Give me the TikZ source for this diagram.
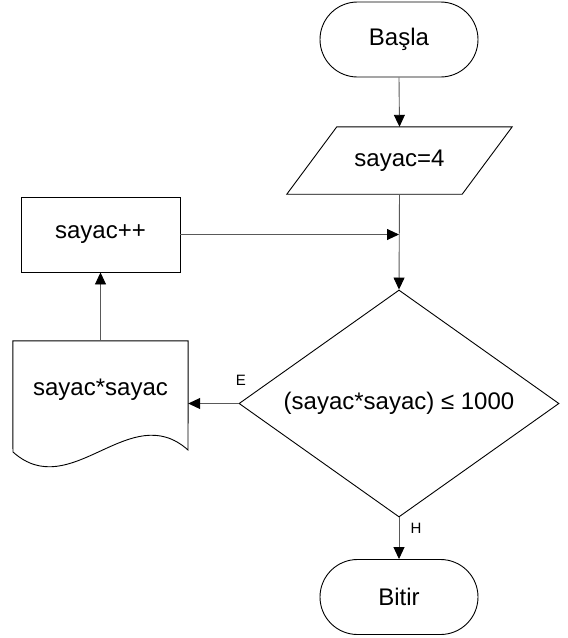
\documentclass[tikz,border=0pt]{standalone}
\usepackage{fontspec}
\setmainfont{Liberation Sans}
\usetikzlibrary{shapes.geometric,shapes.misc,arrows.meta,calc}
\begin{document}
\begin{tikzpicture}[x=1pt,y=-1pt,
  shp/.style={draw=black,line width=0.9pt,font=\fontsize{24}{28}\selectfont,inner sep=0pt},
  term/.style={shp,rounded rectangle,minimum width=158pt,minimum height=75pt},
  procbox/.style={shp,rectangle,minimum width=159pt,minimum height=75pt},
  ghost/.style={rectangle,inner sep=0pt,font=\fontsize{24}{28}\selectfont},
  dec/.style={shp,diamond,aspect=1.41,minimum width=320pt,minimum height=227pt},
  lbl/.style={inner sep=0pt,font=\fontsize{15}{18}\selectfont},
  conn/.style={draw=black!65,line width=0.9pt},
  arr/.style={conn,-{Triangle[length=12pt,width=11pt,color=black]}}]
\useasboundingbox (0,0) rectangle (568,638);
\node[term] (start) at (399,39.5) {Başla};
\node[ghost,minimum width=225pt,minimum height=67pt] (par) at (399.5,160.5) {sayac=4};
\draw[line width=0.9pt] ([xshift=50pt]par.north west) -- (par.north east) -- ([xshift=-50pt]par.south east) -- (par.south west) -- cycle;
\node[procbox] (inc) at (100.5,234.5) {sayac++};
\node[dec] (dia) at (399,403.5) {(sayac*sayac) ≤ 1000};
\node[ghost,minimum width=175pt,minimum height=98pt] (doc) at (100.5,390) {sayac*sayac};
\draw[line width=0.9pt] (doc.south west) -- (doc.north west) -- (doc.north east) -- (188,450)
  .. controls (130,398) and (71,504) .. (13,452) -- cycle;
\node[term] (stop) at (399,597) {Bitir};
\node[lbl] (e) at (241,380) {E};
\node[lbl] (h) at (416,528) {H};
\draw[arr] (start.south) -- (par.north);
\draw[arr] (par.south) -- (dia.north);
\draw[arr] (inc.east) -- (inc.east -| dia.north);
\draw[arr] (dia.west) -- (dia.west -| doc.east);
\draw[arr] (doc.north) -- (inc.south);
\draw[arr] (dia.south) -- (stop.north);
\end{tikzpicture}
\end{document}
